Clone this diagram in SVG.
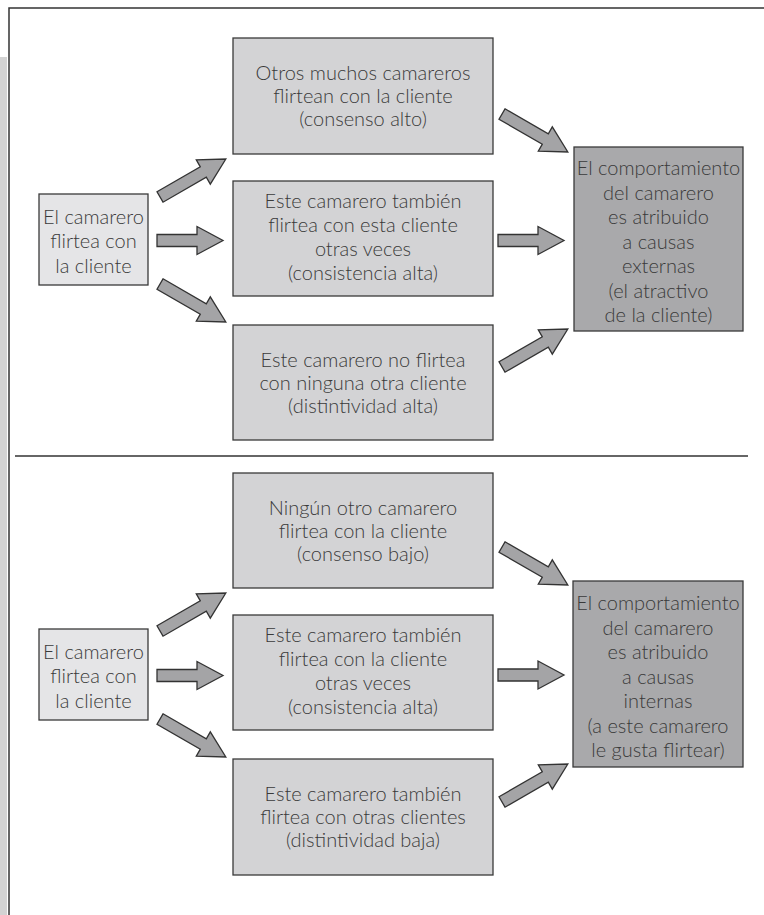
<svg xmlns="http://www.w3.org/2000/svg" xmlns:xlink="http://www.w3.org/1999/xlink" width="764" height="915" viewBox="0 0 764 915">
<style>
.t{font-family:Lato,"Liberation Sans",sans-serif;font-weight:300;font-size:20px;fill:#3a3a3a;text-anchor:middle}
.bl{fill:#e5e5e7;stroke:#3a3a3a;stroke-width:1.3}
.bm{fill:#d3d3d5;stroke:#3a3a3a;stroke-width:1.3}
.br{fill:#a9a9ab;stroke:#3a3a3a;stroke-width:1.3}
.ar{fill:#a4a4a6;stroke:#333;stroke-width:1.3;stroke-linejoin:miter}
.fr{stroke:#333;stroke-width:1.5;fill:none}
</style>
<defs>
<path id="aD" d="M0,-6 L50,-6 L50,-14 L76,0 L50,14 L50,6 L0,6 Z"/>
<path id="aH" d="M0,-6 L40,-6 L40,-14 L66,0 L40,14 L40,6 L0,6 Z"/>
</defs>
<rect x="0" y="57" width="7" height="858" fill="#d3d3d3"/>
<path class="fr" d="M9,915 L9,8 L764,8"/>
<line class="fr" x1="15" y1="456" x2="748" y2="456" stroke-width="1.3"/>

<g id="connectors" class="ar">
<use xlink:href="#aD" transform="translate(160,197) rotate(-30)"/>
<use xlink:href="#aH" transform="translate(157,240.5)"/>
<use xlink:href="#aD" transform="translate(160,284) rotate(30)"/>
<use xlink:href="#aD" transform="translate(502,114) rotate(30)"/>
<use xlink:href="#aH" transform="translate(498,240.5)"/>
<use xlink:href="#aD" transform="translate(502,367) rotate(-30)"/>
<use xlink:href="#aD" transform="translate(160,631) rotate(-30)"/>
<use xlink:href="#aH" transform="translate(157,675.5)"/>
<use xlink:href="#aD" transform="translate(160,719) rotate(30)"/>
<use xlink:href="#aD" transform="translate(502,547) rotate(30)"/>
<use xlink:href="#aH" transform="translate(498,675)"/>
<use xlink:href="#aD" transform="translate(502,802) rotate(-30)"/>
</g>

<g id="n1">
<rect class="bl" x="39" y="194" width="109" height="91"/>
<text class="t"><tspan x="93.5" y="223.5">El camarero</tspan><tspan x="93.5" y="248">flirtea con</tspan><tspan x="93.5" y="272.5">la cliente</tspan></text>
</g>
<g id="n2">
<rect class="bm" x="233" y="38" width="260" height="116"/>
<text class="t"><tspan x="363" y="80">Otros muchos camareros</tspan><tspan x="363" y="103">flirtean con la cliente</tspan><tspan x="363" y="126">(consenso alto)</tspan></text>
</g>
<g id="n3">
<rect class="bm" x="233" y="181" width="260" height="115"/>
<text class="t"><tspan x="363" y="208">Este camarero también</tspan><tspan x="363" y="232">flirtea con esta cliente</tspan><tspan x="363" y="256">otras veces</tspan><tspan x="363" y="280">(consistencia alta)</tspan></text>
</g>
<g id="n4">
<rect class="bm" x="233" y="325" width="260" height="115"/>
<text class="t"><tspan x="363" y="366.5">Este camarero no flirtea</tspan><tspan x="363" y="389.5">con ninguna otra cliente</tspan><tspan x="363" y="412.5">(distintividad alta)</tspan></text>
</g>
<g id="n5">
<rect class="br" x="574" y="147" width="169" height="184"/>
<text class="t"><tspan x="658.5" y="175">El comportamiento</tspan><tspan x="658.5" y="199.5">del camarero</tspan><tspan x="658.5" y="224">es atribuido</tspan><tspan x="658.5" y="248.5">a causas</tspan><tspan x="658.5" y="273">externas</tspan><tspan x="658.5" y="297.5">(el atractivo</tspan><tspan x="658.5" y="322">de la cliente)</tspan></text>
</g>

<g id="n6">
<rect class="bl" x="39" y="629" width="109" height="91"/>
<text class="t"><tspan x="93.5" y="658.5">El camarero</tspan><tspan x="93.5" y="683">flirtea con</tspan><tspan x="93.5" y="707.5">la cliente</tspan></text>
</g>
<g id="n7">
<rect class="bm" x="233" y="473" width="260" height="115"/>
<text class="t"><tspan x="363" y="514.5">Ningún otro camarero</tspan><tspan x="363" y="537.5">flirtea con la cliente</tspan><tspan x="363" y="560.5">(consenso bajo)</tspan></text>
</g>
<g id="n8">
<rect class="bm" x="233" y="615" width="260" height="115"/>
<text class="t"><tspan x="363" y="642">Este camarero también</tspan><tspan x="363" y="666">flirtea con la cliente</tspan><tspan x="363" y="690">otras veces</tspan><tspan x="363" y="714">(consistencia alta)</tspan></text>
</g>
<g id="n9">
<rect class="bm" x="233" y="759" width="260" height="116"/>
<text class="t"><tspan x="363" y="801">Este camarero también</tspan><tspan x="363" y="824">flirtea con otras clientes</tspan><tspan x="363" y="847">(distintividad baja)</tspan></text>
</g>
<g id="n10">
<rect class="br" x="573" y="581" width="170" height="186"/>
<text class="t"><tspan x="658" y="610">El comportamiento</tspan><tspan x="658" y="634.5">del camarero</tspan><tspan x="658" y="659">es atribuido</tspan><tspan x="658" y="683.5">a causas</tspan><tspan x="658" y="708">internas</tspan><tspan x="658" y="732.5">(a este camarero</tspan><tspan x="658" y="757">le gusta flirtear)</tspan></text>
</g>
</svg>
